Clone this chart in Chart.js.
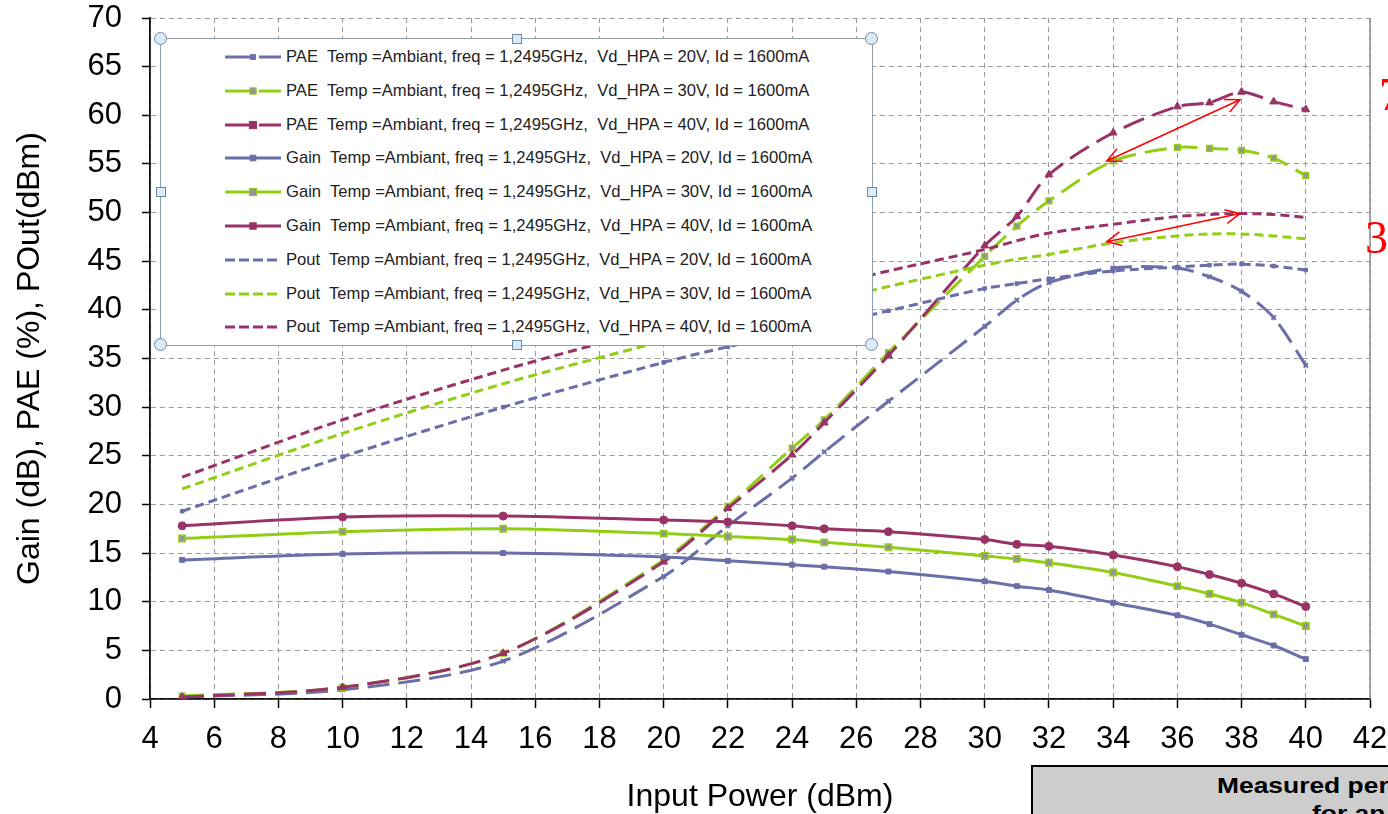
<!DOCTYPE html>
<html>
<head>
<meta charset="utf-8">
<script src="https://cdn.jsdelivr.net/npm/chart.js@4.4.0/dist/chart.umd.min.js"></script>
<style>
  html, body { margin: 0; padding: 0; background: #fff; overflow: hidden; }
  #wrap { position: relative; width: 1388px; height: 814px; }
  #legend { position: absolute; left: 160px; top: 38px; width: 711px; height: 306px;
    border: 1.5px solid #8aa0b4; background: #fff;
    font-family: 'Liberation Sans', Arial, sans-serif; font-size: 16.6px; color: #222; }
  .row { position: absolute; left: 63px; height: 20px; display: flex; align-items: center; white-space: pre; }
  .row svg { margin-right: 4px; }
  .h { position: absolute; background: #dceaf5; border: 1.3px solid #6d8aa5; }
  .hc { width: 11px; height: 11px; border-radius: 50%; margin: -7px 0 0 -7px; }
  .hs { width: 8px; height: 8px; margin: -5px 0 0 -5px; }
  #note { position: absolute; left: 1031px; top: 765px; width: 500px; height: 80px;
    background: #cdcdcd; border: 2px solid #000; font: bold 22px 'Liberation Sans', Arial, sans-serif; color: #000; }
  #note div { position: absolute; white-space: pre; transform: scaleX(1.2); transform-origin: left top; }
  .red { position: absolute; color: #f00; font: 46px 'Liberation Serif', 'Times New Roman', serif; }
</style>
</head>
<body>
<div id="wrap">
  <canvas id="chart" width="1388" height="814"></canvas>
  <div id="legend"></div>
  <div id="note">
    <div style="left:184px;top:6px;">Measured performances</div>
    <div style="left:279px;top:34px;">for an HPA</div>
  </div>
  <div class="red" style="left:1365px;top:211px;">3</div>
  <div class="red" style="left:1379px;top:68px;">7</div>
</div>
<script>
// input power (dBm) where every curve was measured
const inputPower = [5, 10, 15, 20, 22, 24, 25, 27, 30, 31, 32, 34, 36, 37, 38, 39, 40];

const pae20 = [0.2, 0.95, 3.9, 12.6, 17.8, 22.7, 25.4, 30.6, 38.3, 41.0, 42.8, 44.3, 44.3, 43.4, 41.9, 39.2, 34.3];
const pae30 = [0.3, 1.2, 4.7, 14.3, 19.8, 25.8, 28.7, 35.6, 45.5, 48.6, 51.2, 55.3, 56.7, 56.6, 56.4, 55.6, 53.8];
const pae40 = [0.2, 1.2, 4.7, 14.1, 19.6, 25.1, 28.4, 35.3, 46.6, 49.6, 53.9, 58.2, 60.9, 61.3, 62.4, 61.4, 60.6];

const gain20 = [14.3, 14.9, 15.0, 14.6, 14.2, 13.8, 13.6, 13.1, 12.1, 11.6, 11.2, 9.9, 8.6, 7.7, 6.6, 5.5, 4.1];
const gain30 = [16.5, 17.2, 17.5, 17.0, 16.7, 16.4, 16.1, 15.6, 14.7, 14.4, 14.0, 13.0, 11.6, 10.8, 9.9, 8.7, 7.5];
const gain40 = [17.8, 18.7, 18.8, 18.4, 18.2, 17.8, 17.5, 17.2, 16.4, 15.9, 15.7, 14.8, 13.6, 12.8, 11.9, 10.8, 9.5];

const pout20 = [19.3, 24.9, 30.0, 34.6, 36.2, 37.6, 38.4, 39.9, 42.2, 42.7, 43.2, 44.0, 44.4, 44.6, 44.7, 44.5, 44.1];
const pout30 = [21.6, 27.3, 32.4, 36.8, 38.4, 40.0, 40.8, 42.4, 44.6, 45.2, 45.7, 46.9, 47.6, 47.8, 47.8, 47.6, 47.3];
const pout40 = [22.8, 28.7, 33.8, 38.3, 40.0, 41.6, 42.4, 44.0, 46.2, 47.1, 47.9, 48.8, 49.6, 49.8, 49.9, 49.8, 49.5];

const xRange = [4, 42];
const xStep = 2;
const yRange = [0, 70];
const yStep = 5;

// red double arrows drawn on the figure (input power, value)
const arrows = [
  [33.8, 55.3, 37.95, 61.6],
  [33.8, 47.0, 37.95, 49.9]
];

const suffix = ' Temp =Ambiant, freq = 1,2495GHz,  Vd_HPA = ';
const blue = '#6b6ea8', green = '#92cf14', red = '#993366';
const longDash = [22, 9], shortDash = [9, 5];

function series(name, volts, values, color, dash, marker) {
  return {
    label: name + suffix + volts + 'V, Id = 1600mA',
    data: inputPower.map((x, i) => ({ x: x, y: values[i] })),
    borderColor: color,
    backgroundColor: marker.fill || color,
    borderDash: dash,
    borderWidth: 3,
    pointStyle: marker.style,
    pointRadius: marker.r,
    pointBorderColor: color,
    pointBorderWidth: marker.bw || 1,
    tension: 0.3,
    fill: false
  };
}

const datasets = [
  series('PAE ', 20, pae20, blue, longDash, { style: 'crossRot', r: 3, bw: 2 }),
  series('PAE ', 30, pae30, green, longDash, { style: 'rect', r: 4, fill: '#949494', bw: 1.5 }),
  series('PAE ', 40, pae40, red, longDash, { style: 'triangle', r: 4.5 }),
  series('Gain ', 20, gain20, blue, [], { style: 'rect', r: 3.5 }),
  series('Gain ', 30, gain30, green, [], { style: 'rect', r: 4.5, fill: '#949494', bw: 1.5 }),
  series('Gain ', 40, gain40, red, [], { style: 'circle', r: 4 }),
  series('Pout ', 20, pout20, blue, shortDash, { style: 'rect', r: 2.5 }),
  series('Pout ', 30, pout30, green, shortDash, { style: 'rect', r: 0 }),
  series('Pout ', 40, pout40, red, shortDash, { style: 'rect', r: 0 })
];
// later series sit on top, as in the original
datasets.forEach((d, i) => { d.order = -i; });

const extras = {
  id: 'extras',
  afterDraw(chart) {
    const { ctx, chartArea, scales: { x, y } } = chart;
    ctx.save();
    ctx.strokeStyle = '#8c8c8c';
    ctx.lineWidth = 1.5;
    ctx.beginPath();
    ctx.moveTo(chartArea.right, chartArea.top);
    ctx.lineTo(chartArea.right, chartArea.bottom);
    ctx.stroke();

    ctx.strokeStyle = '#ff0000';
    ctx.lineWidth = 1.5;
    arrows.forEach(a => {
      const x1 = x.getPixelForValue(a[0]), y1 = y.getPixelForValue(a[1]);
      const x2 = x.getPixelForValue(a[2]), y2 = y.getPixelForValue(a[3]);
      const ang = Math.atan2(y2 - y1, x2 - x1);
      ctx.beginPath();
      ctx.moveTo(x1, y1);
      ctx.lineTo(x2, y2);
      [[x1, y1, ang], [x2, y2, ang + Math.PI]].forEach(([px, py, an]) => {
        ctx.moveTo(px + 16 * Math.cos(an - 0.45), py + 16 * Math.sin(an - 0.45));
        ctx.lineTo(px, py);
        ctx.lineTo(px + 16 * Math.cos(an + 0.45), py + 16 * Math.sin(an + 0.45));
      });
      ctx.stroke();
    });
    ctx.restore();
  }
};

const tickFont = { family: "'Liberation Sans', Arial, sans-serif", size: 31 };
const titleFont = { family: "'Liberation Sans', Arial, sans-serif", size: 32, lineHeight: 1 };

new Chart(document.getElementById('chart'), {
  type: 'line',
  data: { datasets: datasets },
  options: {
    responsive: false,
    animation: false,
    layout: { padding: { top: 18, right: 18, bottom: 0, left: 0 } },
    plugins: { legend: { display: false }, tooltip: { enabled: false } },
    scales: {
      x: {
        type: 'linear',
        min: xRange[0], max: xRange[1],
        ticks: { stepSize: xStep, color: '#000', font: tickFont, padding: 13, maxRotation: 0 },
        grid: { color: '#9a9a9a', lineWidth: 1, tickLength: 9, tickColor: '#000', tickWidth: 1.5, tickBorderDash: [] },
        border: { display: true, color: '#111', width: 1.8, dash: [5, 4] },
        title: { display: true, text: 'Input Power (dBm)', color: '#000', font: titleFont, padding: { top: 0, bottom: 1 } },
        afterFit(s) { s.height = 115; s.paddingLeft = 0; s.paddingRight = 0; }
      },
      y: {
        min: yRange[0], max: yRange[1],
        ticks: { stepSize: yStep, color: '#000', font: tickFont, padding: 20 },
        grid: { color: '#9a9a9a', lineWidth: 1, tickLength: 8, tickColor: '#000', tickWidth: 1.5, tickBorderDash: [] },
        border: { display: true, color: '#111', width: 1.8, dash: [5, 4] },
        title: { display: true, text: 'Gain (dB), PAE (%), POut(dBm)', color: '#000', font: titleFont, padding: { top: 14, bottom: 0 } },
        afterFit(s) { s.width = 150; s.paddingTop = 0; s.paddingBottom = 0; }
      }
    }
  },
  plugins: [extras]
});

// legend box drawn over the plot like the original one
const legend = document.getElementById('legend');
datasets.forEach((d, i) => {
  const row = document.createElement('div');
  row.className = 'row';
  row.style.top = (8 + i * 33.8) + 'px';
  const svg = document.createElementNS('http://www.w3.org/2000/svg', 'svg');
  svg.setAttribute('width', '58'); svg.setAttribute('height', '20');
  let inner = '<line x1="1" y1="10" x2="57" y2="10" stroke="' + d.borderColor + '" stroke-width="3"' +
    (d.borderDash.length ? ' stroke-dasharray="' + (d.borderDash[0] === 22 ? '26,8' : '10,4') + '"' : '') + '/>';
  if (d.pointRadius > 0 && i < 6) {
    const r = d.pointRadius * 0.8;
    inner += '<rect x="' + (29 - r) + '" y="' + (10 - r) + '" width="' + 2 * r + '" height="' + 2 * r +
      '" fill="' + d.backgroundColor + '" stroke="' + d.borderColor + '"/>';
  }
  svg.innerHTML = inner;
  row.appendChild(svg);
  row.appendChild(document.createTextNode(d.label));
  legend.appendChild(row);
});
[[0, 0, 'hc'], [100, 0, 'hc'], [0, 100, 'hc'], [100, 100, 'hc'],
 [50, 0, 'hs'], [50, 100, 'hs'], [0, 50, 'hs'], [100, 50, 'hs']].forEach(h => {
  const el = document.createElement('div');
  el.className = 'h ' + h[2];
  el.style.left = h[0] + '%';
  el.style.top = h[1] + '%';
  legend.appendChild(el);
});
</script>
</body>
</html>
